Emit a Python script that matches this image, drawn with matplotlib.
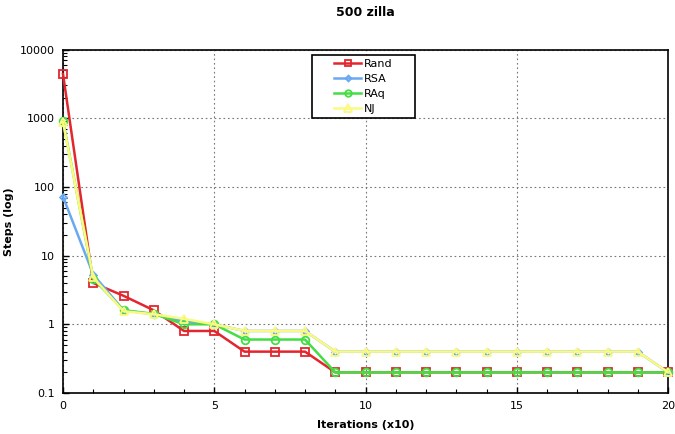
import matplotlib
matplotlib.use("Agg")
import matplotlib.pyplot as plt
from matplotlib.patches import Rectangle
from matplotlib.ticker import FixedLocator, FixedFormatter, MultipleLocator, LogLocator, NullFormatter

iterations = list(range(21))
rand = [4400, 4.0, 2.6, 1.6, 0.8, 0.8, 0.4, 0.4, 0.4] + [0.2] * 12
rsa = [72, 5.3, 1.6, 1.4, 1.1, 1.0, 0.8, 0.8, 0.8] + [0.4] * 11 + [0.2]
raq = [920, 4.6, 1.6, 1.42, 1.0, 1.0, 0.6, 0.6, 0.6] + [0.2] * 12
nj = [880, 4.8, 1.55, 1.4, 1.2, 1.0, 0.8, 0.8, 0.8] + [0.4] * 11 + [0.2]

xticks = [0, 5, 10, 15, 20]
yticks = [0.1, 1, 10, 100, 1000, 10000]
ytick_labels = ["0.1", "1", "10", "100", "1000", "10000"]

plt.rcParams['font.family'] = ['DejaVu Sans']
fig = plt.figure(figsize=(6.75, 4.34), dpi=100)
ax = fig.add_axes([63/675, 1-393/434, 605/675, 343.5/434])

series = [
    ("Rand", rand, "#e3262e", "s", 5.8),
    ("RSA", rsa, "#6aa8f2", "D", 3.5),
    ("RAq", raq, "#44dd44", "o", 5.5),
    ("NJ", nj, "#fafa80", "^", 6),
]
for name, vals, col, mk, ms in series:
    ax.plot(iterations, vals, color=col, marker=mk, markersize=ms,
            markerfacecolor="none", markeredgecolor=col, markeredgewidth=1.3,
            linewidth=1.8, label=name, clip_on=False, zorder=3)

ax.set_yscale("log")
ax.set_xlim(0, 20)
ax.set_ylim(0.1, 10000)
ax.xaxis.set_major_locator(FixedLocator(xticks))
ax.xaxis.set_minor_locator(MultipleLocator(1))
ax.yaxis.set_major_locator(FixedLocator(yticks))
ax.yaxis.set_major_formatter(FixedFormatter(ytick_labels))
ax.yaxis.set_minor_locator(LogLocator(base=10, subs=range(2, 10)))
ax.yaxis.set_minor_formatter(NullFormatter())
ax.tick_params(which="both", direction="in", top=False, right=False, labelsize=8)
ax.tick_params(which="major", length=4, width=1, pad=6)
ax.tick_params(which="minor", length=3, width=0.8)
ax.grid(True, which="major", linestyle=(0, (1.5, 2.5)), color="#777777", linewidth=0.8)
for s in ax.spines.values():
    s.set_linewidth(1.2)

ax.set_title("500 zilla", fontsize=9, fontweight="bold", pad=24)
ax.set_xlabel("Iterations (x10)", fontsize=8, fontweight="bold", labelpad=6)
ax.set_ylabel("Steps (log)", fontsize=8, fontweight="bold", labelpad=4)

# legend frame drawn separately for the wide horizontal padding
frame = Rectangle((249/605, 275/343.5), 103/605, 63/343.5, transform=ax.transAxes,
                  facecolor="white", edgecolor="black", linewidth=1.2, zorder=5)
ax.add_patch(frame)
leg = ax.legend(loc="center", bbox_to_anchor=(300.5/605, 306.5/343.5), fontsize=8,
                frameon=False, handlelength=2.4, handletextpad=0.3,
                labelspacing=0.45, markerscale=0.85)
leg.set_zorder(6)

fig.savefig("out.png", dpi=100)
